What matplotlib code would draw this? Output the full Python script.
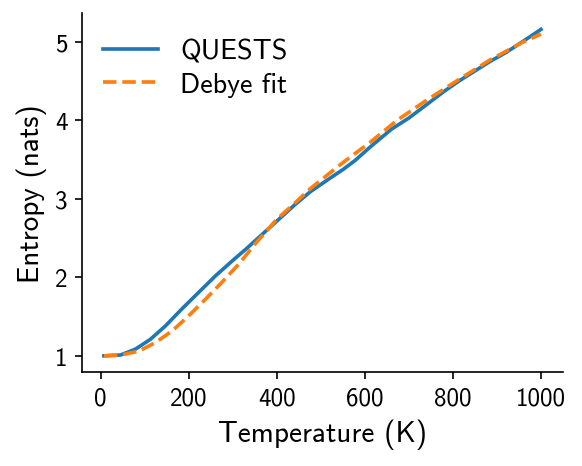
import matplotlib
matplotlib.use("Agg")
import matplotlib.pyplot as plt

quests_T = [7.5, 45, 79, 113, 147, 185, 223, 261, 299, 330, 393, 440, 476, 520, 552, 578,
            612, 661, 700, 733, 780, 816, 850, 884, 922, 960, 1000]
quests_S = [1.0, 1.01, 1.085, 1.21, 1.38, 1.60, 1.81, 2.02, 2.21, 2.36, 2.68, 2.92, 3.09, 3.26, 3.38, 3.49,
            3.66, 3.89, 4.03, 4.17, 4.37, 4.51, 4.63, 4.75, 4.87, 5.01, 5.16]

debye_T = [7.5, 46, 87, 125, 163, 200, 238, 276, 314, 350, 400, 440, 476, 552, 612, 673,
           733, 816, 884, 960, 1000]
debye_S = [1.0, 1.01, 1.06, 1.17, 1.32, 1.51, 1.72, 1.94, 2.17, 2.42, 2.74, 2.94, 3.13, 3.47, 3.72, 4.0,
           4.23, 4.53, 4.77, 5.0, 5.10]

plt.rcParams['font.family'] = ['cmss10', 'DejaVu Sans']
plt.rcParams['axes.unicode_minus'] = False

fig = plt.figure(figsize=(3.88, 3.113), dpi=150)
ax = fig.add_axes([0.141, 0.201, 0.826, 0.769])
ax.plot(quests_T, quests_S, color='#1f77b4', lw=1.75, label='QUESTS')
ax.plot(debye_T, debye_S, color='#ff7f0e', lw=1.75, ls='--', label='Debye fit')
ax.set_xlabel('Temperature (K)', fontsize=14)
ax.set_ylabel('Entropy (nats)', fontsize=14)
ax.set_xticks([0, 200, 400, 600, 800, 1000])
ax.set_yticks([1, 2, 3, 4, 5])
ax.tick_params(labelsize=12)
ax.spines['top'].set_visible(False)
ax.spines['right'].set_visible(False)
ax.legend(frameon=False, loc='upper left', fontsize=13.5, labelspacing=0.3,
          bbox_to_anchor=(-0.009, 1.0), handlelength=1.95)
fig.savefig('out.png', dpi=150)
